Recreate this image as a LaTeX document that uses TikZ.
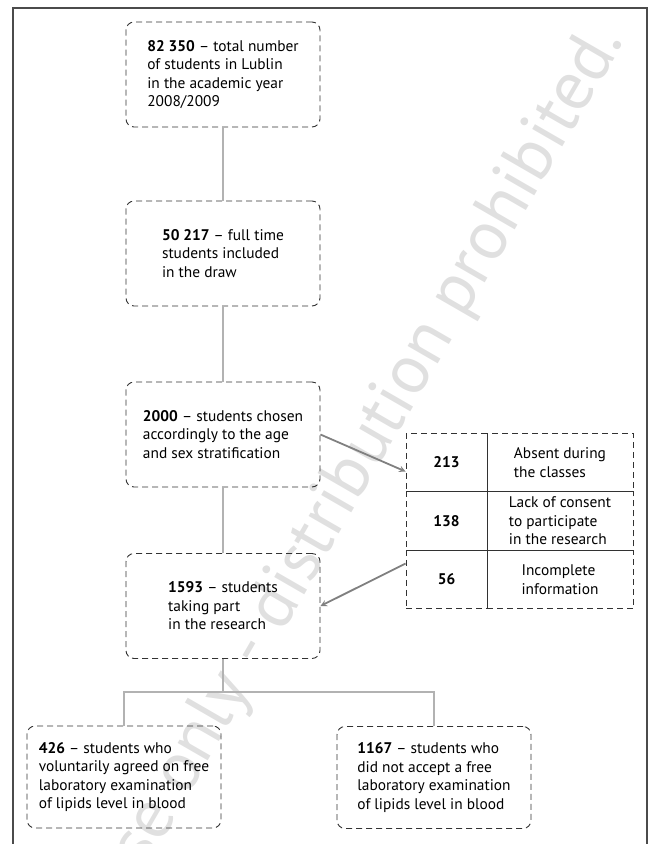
\documentclass[tikz,border=0pt]{standalone}
\usepackage{fontspec}
\setmainfont{PT Sans}
\usetikzlibrary{arrows.meta}
\definecolor{boxline}{RGB}{50,50,50}
\definecolor{linkgray}{RGB}{178,178,178}
\definecolor{arrgray}{RGB}{128,128,128}
\definecolor{markgray}{RGB}{224,224,224}
\definecolor{framegray}{RGB}{75,75,75}
\tikzset{
  stage/.style={draw=boxline,dash pattern=on 6pt off 4pt,line width=0.9pt,rounded corners=8pt,
    minimum width=194pt,minimum height=105pt,inner sep=0pt,align=left,font=\fontsize{15.4}{18.5}\selectfont},
  cell/.style={draw=boxline,dash pattern=on 6pt off 4pt,line width=0.9pt,
    minimum height=58.5pt,inner sep=0pt,align=left,font=\fontsize{15.4}{18.5}\selectfont},
  link/.style={draw=linkgray,line width=2.6pt},
  drop/.style={->,>=stealth,draw=arrgray,line width=1.8pt}
}
\begin{document}
\begin{tikzpicture}[x=1pt,y=-1pt]
		\useasboundingbox (0,0) rectangle (648,844);
		\begin{scope}
			\clip (0,0) rectangle (648,844);
			\node[text=markgray,rotate=60,anchor=base east,font=\fontsize{69.5}{69.5}\selectfont] (mark) at (626,38) {This copy is for personal use only - distribution prohibited.}; %watermark
		\end{scope}
		\draw[framegray,line width=1.5pt] (13,844)--(13,8)--(647,8)--(647,844); %frame
		\node[stage] (total) at (223,74.5) {\textbf{82 350} – total number\\of students in Lublin\\in the academic year\\2008/2009};
		\node[stage] (draw) at (223,253.5) {\textbf{50 217} – full time\\students included\\in the draw};
		\node[stage] (chosen) at (223,434.5) {\textbf{2000} – students chosen\\accordingly to the age\\and sex stratification};
		\node[stage] (part) at (223,606) {\textbf{1593} – students\\taking part\\in the research};
		\node[stage,minimum height=102pt] (agreed) at (124,777) {\textbf{426} – students who\\voluntarily agreed on free\\laboratory examination\\of lipids level in blood};
		\node[stage,minimum height=102pt] (refused) at (434,777.5) {\textbf{1167} – students who\\did not accept a free\\laboratory examination\\of lipids level in blood};
		% excluded students
		\node[cell,minimum width=81pt] (absentN) at (446.5,462.5) {\textbf{213}};
		\node[cell,minimum width=146pt] (absent) at (560,462.5) {Absent during\\the classes};
		\node[cell,minimum width=81pt] (consentN) at (446.5,521) {\textbf{138}};
		\node[cell,minimum width=146pt] (consent) at (560,521) {Lack of consent\\to participate\\in the research};
		\node[cell,minimum width=81pt] (infoN) at (446.5,579.5) {\textbf{56}};
		\node[cell,minimum width=146pt] (info) at (560,579.5) {Incomplete\\information};
		% connectors
		\draw[link] (total.south)--(draw.north);
		\draw[link] (draw.south)--(chosen.north);
		\draw[link] (chosen.south)--(part.north);
		\coordinate (fork) at (223,692);
		\draw[link] (part.south)--(fork);
		\draw[link] (agreed.north)|-(fork)-|(refused.north);
		\draw[drop] (chosen.east)--([yshift=-9pt]absentN.west);
		\draw[drop] ([yshift=16pt]infoN.west)--(part.east);
	\end{tikzpicture}
\end{document}
